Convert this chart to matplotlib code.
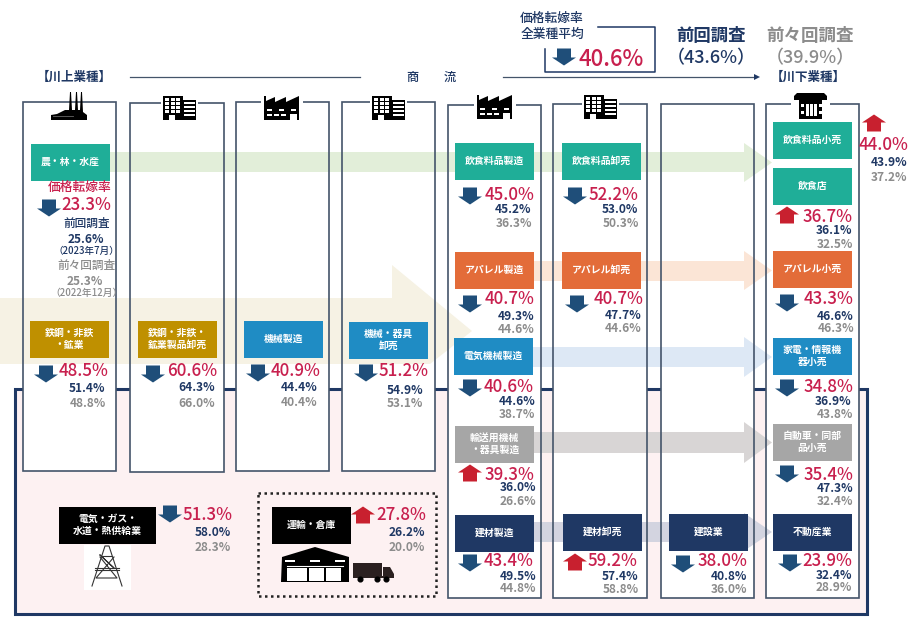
import matplotlib
matplotlib.use("Agg")
import matplotlib.pyplot as plt
from matplotlib.patches import Rectangle, Polygon

plt.rcParams['font.family'] = ['Noto Sans CJK JP', 'DejaVu Sans']

# industries, values
names = ['農・林・水産', '鉄鋼・非鉄\n・鉱業', '鉄鋼・非鉄・\n鉱業製品卸売', '機械製造', '機械・器具\n卸売',
         '飲食料品製造', '飲食料品卸売', 'アパレル製造', 'アパレル卸売', '電気機械製造',
         '輸送用機械\n・器具製造', '建材製造', '建材卸売', '建設業',
         '飲食料品小売', '飲食店', 'アパレル小売', '家電・情報機\n器小売', '自動車・同部\n品小売', '不動産業',
         '電気・ガス・\n水道・熱供給業', '運輸・倉庫']
rates = [23.3, 48.5, 60.6, 40.9, 51.2,
         45.0, 52.2, 40.7, 40.7, 40.6,
         39.3, 43.4, 59.2, 38.0,
         44.0, 36.7, 43.3, 34.8, 35.4, 23.9,
         51.3, 27.8]
prev_rates = [25.6, 51.4, 64.3, 44.4, 54.9,
              45.2, 53.0, 49.3, 47.7, 44.6,
              36.0, 49.5, 57.4, 40.8,
              43.9, 36.1, 46.6, 36.9, 47.3, 32.4,
              58.0, 26.2]
prev2_rates = [25.3, 48.8, 66.0, 40.4, 53.1,
               36.3, 50.3, 44.6, 44.6, 38.7,
               26.6, 44.8, 58.8, 36.0,
               37.2, 32.5, 46.3, 43.8, 32.4, 28.9,
               28.3, 20.0]
avg_rate = 40.6
avg_prev = 43.6
avg_prev2 = 39.9

# layout in pixels of the 922x622 picture
TEAL, GOLD, BLUE, ORANGE, GRAY, NAVY, BLACK = '#1fae98', '#bf9000', '#1f8cc4', '#e36c39', '#a6a6a6', '#1f3864', '#000000'
box_colors = [TEAL, GOLD, GOLD, BLUE, BLUE,
              TEAL, TEAL, ORANGE, ORANGE, BLUE,
              GRAY, NAVY, NAVY, NAVY,
              TEAL, TEAL, ORANGE, BLUE, GRAY, NAVY,
              BLACK, BLACK]
box_pos = [(31, 144), (30, 321), (138, 321), (244, 321), (349, 322),
           (455, 143), (562, 143), (455, 252), (562, 252), (454, 338),
           (455, 426), (455, 515), (563, 514), (669, 514),
           (773, 122), (773, 168), (773, 251), (773, 338), (773, 424), (773, 514),
           (59, 507), (272, 507)]
box_w = [79] * 20 + [97, 79]
arrow_pos = [(49, 208), (46, 374), (153, 374), (258, 373), (366, 373),
             (470, 196), (575, 196), (470, 304), (577, 304), (470, 388),
             (470, 473), (470, 563), (575, 562), (683, 564),
             (874, 123), (787, 215), (787, 303), (787, 388), (787, 474), (790, 563),
             (170, 514), (363, 515)]
rate_pos = [(111, 204), (108, 370), (217, 370), (320, 370), (429, 369),
            (534, 193), (638, 193), (534, 298), (643, 298), (534, 385),
            (534, 473), (533, 560), (637, 560), (747, 560),
            (908, 143), (853, 216), (853, 297), (853, 386), (853, 473), (852, 560),
            (233, 514), (426, 514)]
prev_pos = [(104, 238), (105, 387), (215, 386), (317, 386), (423, 389),
            (531, 208), (638, 208), (534, 315), (641, 314), (535, 400),
            (536, 486), (536, 575), (638, 575), (747, 575),
            (907, 161), (852, 229), (853, 315), (851, 400), (853, 487), (852, 574),
            (231, 531), (425, 531)]
prev2_pos = [(103, 280), (106, 402), (215, 402), (317, 401), (423, 402),
             (532, 222), (639, 222), (534, 328), (641, 327), (535, 413),
             (536, 500), (536, 587), (639, 588), (747, 588),
             (907, 176), (853, 243), (854, 327), (853, 413), (853, 500), (852, 586),
             (231, 546), (425, 546)]
columns = [(23, 102, 93, 369), (130, 103, 94, 369), (236, 102, 93, 369), (342, 102, 93, 369),
           (447.5, 105, 93.5, 493), (553, 104, 94, 494), (660.5, 104, 93.5, 494), (766, 104, 93, 494)]
flow_arrows = [(110, 152, 172, 143, 182, '#e2eed9'),
               (534, 261, 281, 251, 290, '#fbe5d6'),
               (533, 347, 367, 337, 377, '#dde8f5'),
               (534, 432, 453, 422, 463, '#d8d5d5'),
               (534, 522, 542, 513, 551, '#d3d4e0')]

C_RED = '#c8204e'
C_NAVY = '#1f3864'
C_GRAY = '#8c8c8c'
C_EDGE = '#44546a'

fig = plt.figure(figsize=(9.22, 6.22), dpi=100)
ax = fig.add_axes([0, 0, 1, 1])
ax.set_xlim(0, 922)
ax.set_ylim(622, 0)
ax.axis('off')


def rect(x, y, w, h, **kw):
    ax.add_patch(Rectangle((x, y), w, h, **kw))


def poly(pts, color='black', z=6):
    ax.add_patch(Polygon(pts, closed=True, fc=color, ec='none', zorder=z))


def updown(cx, cy, up):
    color = '#c8202f' if up else '#1f4e79'
    s = -1 if up else 1
    pts = [(cx - 7, cy - 8.5 * s), (cx + 7, cy - 8.5 * s), (cx + 7, cy + 0.5 * s), (cx + 12, cy + 0.5 * s),
           (cx, cy + 8.5 * s), (cx - 12, cy + 0.5 * s), (cx - 7, cy + 0.5 * s)]
    poly(pts, color, 7)


def building(x, y):
    rect(x - 2, y, 37, 25, fc='white', ec='none', zorder=5)
    rect(x, y, 20, 24, fc='black', ec='none', zorder=6)
    rect(x + 20, y + 4, 13, 20, fc='black', ec='none', zorder=6)
    for i in range(4):
        for j in range(3):
            rect(x + 2 + j * 5.5, y + 2 + i * 4, 4, 3, fc='white', ec='none', zorder=7)
        rect(x + 21, y + 6 + i * 4, 11, 2.4, fc='white', ec='none', zorder=7)
    rect(x + 6, y + 19, 6, 5, fc='white', ec='none', zorder=7)


def factory(x, y):
    rect(x - 3, y, 42, 25, fc='white', ec='none', zorder=5)
    poly([(x, y + 24), (x, y), (x + 2, y), (x + 2, y + 5), (x + 11, y + 1), (x + 11, y + 6), (x + 22, y + 1),
          (x + 22, y + 6), (x + 35, y), (x + 35, y + 24), (x + 33, y + 24), (x + 33, y + 18), (x + 26, y + 18),
          (x + 26, y + 24)])
    for dx, dy in [(3, 13), (15, 13), (27, 13), (3, 18), (10, 18), (17, 18)]:
        rect(x + dx, y + dy, 5, 1.5, fc='white', ec='none', zorder=7)


def shop(x, y):
    rect(x - 3, y, 39, 26, fc='white', ec='none', zorder=5)
    poly([(x + 3, y), (x + 30, y), (x + 33, y + 3), (x + 33, y + 7), (x + 28, y + 7), (x + 28, y + 26),
          (x + 5, y + 26), (x + 5, y + 7), (x, y + 7), (x, y + 3)])
    for dx, w in [(13, 2.5), (17, 2.5), (21, 2.5)]:
        rect(x + dx - 1, y + 11, w, 12, fc='white', ec='none', zorder=7)
    for dx in (6.5, 24.5):
        rect(x + dx, y + 11, 3, 3, fc='white', ec='none', zorder=7)
        rect(x + dx, y + 18, 3, 3, fc='white', ec='none', zorder=7)


def plant(x, y):
    poly([(x, y + 28), (x, y + 23), (x + 6, y + 22), (x + 14, y + 18), (x + 18, y + 18), (x + 19, y),
          (x + 20, y), (x + 21, y + 18), (x + 24, y + 18), (x + 25, y), (x + 26, y), (x + 27, y + 18),
          (x + 29, y + 18), (x + 30, y), (x + 31, y), (x + 32, y + 20), (x + 36, y + 23), (x + 36, y + 28)])
    ax.plot([x + 2, x + 22], [y + 24, y + 24], color='#666666', lw=0.6, zorder=7)


def pylon(x, y):
    rect(x - 8, y, 47, 45, fc='white', ec='none', zorder=5)
    kw = dict(color='#333333', lw=0.8, zorder=6)
    ax.plot([x, x + 13, x + 17, x + 30], [y + 41, y + 1, y + 1, y + 41], **kw)
    ax.plot([x + 3, x + 27], [y + 23, y + 23], **kw)
    ax.plot([x + 3, x + 27], [y + 25, y + 25], **kw)
    ax.plot([x + 8, x + 22, x + 8], [y + 10, y + 23, y + 10], **kw)
    ax.plot([x + 10, x + 20], [y + 11, y + 11], **kw)
    ax.plot([x + 8, x + 25, x + 4, x + 22], [y + 12, y + 33, y + 33, y + 12], **kw)


def warehouse(x, y):
    poly([(x, y + 35), (x + 1, y + 10), (x + 34, y), (x + 68, y + 10), (x + 68, y + 35)])
    for dx in (4, 29, 54):
        rect(x + dx, y + 13, 10, 2, fc='white', ec='none', zorder=7)
    for dx in (6, 28, 45):
        rect(x + dx, y + 21, 20 if dx == 6 else 15, 13, fc='white', ec='none', zorder=7)
    ax.plot([x + 6, x + 62], [y + 19, y + 19], color='white', lw=0.8, zorder=7)


def truck(x, y):
    rect(x, y, 29, 13, fc='#2b2020', ec='none', zorder=6)
    poly([(x + 30, y + 4), (x + 37, y + 4), (x + 41, y + 11), (x + 41, y + 15), (x + 30, y + 15)], '#2b2020')
    rect(x, y + 13, 34, 2, fc='#2b2020', ec='none', zorder=6)
    for dx in (7, 24, 33):
        ax.plot([x + dx], [y + 16], 'o', ms=3.4, color='black', zorder=7)


# background panel and column fills
rect(15, 389, 852, 225, fc='#fdf1f2', ec='#1f3864', lw=2.2, zorder=1)
for x, y, w, h in columns:
    rect(x, y, w, h, fc='white', ec='none', zorder=2)

# flow arrows behind the boxes
poly([(0, 298), (392, 298), (392, 265), (472, 331), (430, 364), (0, 364)], '#f6f2e4', 3)
for x0, y0, y1, top, bot, col in flow_arrows:
    mid = (top + bot) / 2
    poly([(x0, y0), (744, y0), (744, top), (772, mid), (744, bot), (744, y1), (x0, y1)], col, 3)

for x, y, w, h in columns:
    rect(x, y, w, h, fc='none', ec=C_EDGE, lw=1.2, zorder=4)

# icons
plant(51, 92)
building(163, 96)
factory(264, 96)
building(372, 96)
factory(477, 95)
building(584, 95)
shop(794, 93)
pylon(92, 545)
warehouse(281, 547)
truck(353, 563)

rect(258, 493, 178, 103, fc='none', ec='#222222', lw=1.8, ls=(0, (1, 1.4)), zorder=4)

# industry boxes and their rates
for i, name in enumerate(names):
    x, y = box_pos[i]
    rect(x, y, box_w[i], 37, fc=box_colors[i], ec='none', zorder=5)
    ax.text(x + box_w[i] / 2, y + 18, name, color='white', fontsize=7.1, fontweight='bold', ha='center',
            va='center', linespacing=1.25, zorder=8)
    updown(arrow_pos[i][0], arrow_pos[i][1], rates[i] > prev_rates[i])
    ax.text(rate_pos[i][0], rate_pos[i][1] + 1.5, f'{rates[i]:.1f}%', color=C_RED, fontsize=12.2, fontweight='medium',
            ha='right', va='center', zorder=8)
    ax.text(prev_pos[i][0], prev_pos[i][1] + 1.5, f'{prev_rates[i]:.1f}%', color=C_NAVY, fontsize=8.6, fontweight='bold',
            ha='right', va='center', zorder=8)
    ax.text(prev2_pos[i][0], prev2_pos[i][1] + 1.5, f'{prev2_rates[i]:.1f}%', color=C_GRAY, fontsize=8.6, fontweight='bold',
            ha='right', va='center', zorder=8)

# notes in the first column
ax.text(80, 187, '価格転嫁率', color=C_RED, fontsize=9.2, fontweight='medium', ha='center', va='center', zorder=8)
ax.text(87, 223, '前回調査', color=C_NAVY, fontsize=8.4, fontweight='medium', ha='center', va='center', zorder=8)
ax.text(86, 251, '（2023年7月）', color=C_NAVY, fontsize=6.9, fontweight='medium', ha='center', va='center', zorder=8)
ax.text(86, 265, '前々回調査', color=C_GRAY, fontsize=8.4, fontweight='medium', ha='center', va='center', zorder=8)
ax.text(86, 293, '（2022年12月）', color=C_GRAY, fontsize=7, fontweight='medium', ha='center', va='center', zorder=8)

# header
ax.text(74, 77, '【川上業種】', color=C_NAVY, fontsize=9, fontweight='bold', ha='center', va='center')
ax.text(808, 77, '【川下業種】', color=C_NAVY, fontsize=9, fontweight='bold', ha='center', va='center')
ax.plot([130, 360], [77, 77], color=C_EDGE, lw=0.9)
ax.text(412, 77, '商', color=C_NAVY, fontsize=8.8, fontweight='medium', ha='center', va='center')
ax.text(450, 77, '流', color=C_NAVY, fontsize=8.8, fontweight='medium', ha='center', va='center')
ax.plot([503, 754], [77, 77], color=C_EDGE, lw=0.9)
poly([(754, 74), (760, 77), (754, 80)], C_NAVY)

# all industry average
ax.text(552, 18, '価格転嫁率', color=C_NAVY, fontsize=9.2, fontweight='medium', ha='center', va='center')
ax.text(552, 34, '全業種平均', color=C_NAVY, fontsize=9.2, fontweight='medium', ha='center', va='center')
ax.plot([598, 654.5, 654.5, 545, 545], [26.5, 26.5, 72, 72, 49], color=C_NAVY, lw=1.1)
updown(564, 57, avg_rate > avg_prev)
ax.text(644, 59, f'{avg_rate:.1f}%', color=C_RED, fontsize=16, fontweight='medium', ha='right', va='center')
ax.text(711, 36, '前回調査', color=C_NAVY, fontsize=12.5, fontweight='bold', ha='center', va='center')
ax.text(711, 58, f'（{avg_prev:.1f}%）', color=C_NAVY, fontsize=13, fontweight='medium', ha='center', va='center')
ax.text(810, 36, '前々回調査', color=C_GRAY, fontsize=12.6, fontweight='bold', ha='center', va='center')
ax.text(810, 58, f'（{avg_prev2:.1f}%）', color=C_GRAY, fontsize=13, fontweight='medium', ha='center', va='center')

fig.savefig('out.png', dpi=100)
